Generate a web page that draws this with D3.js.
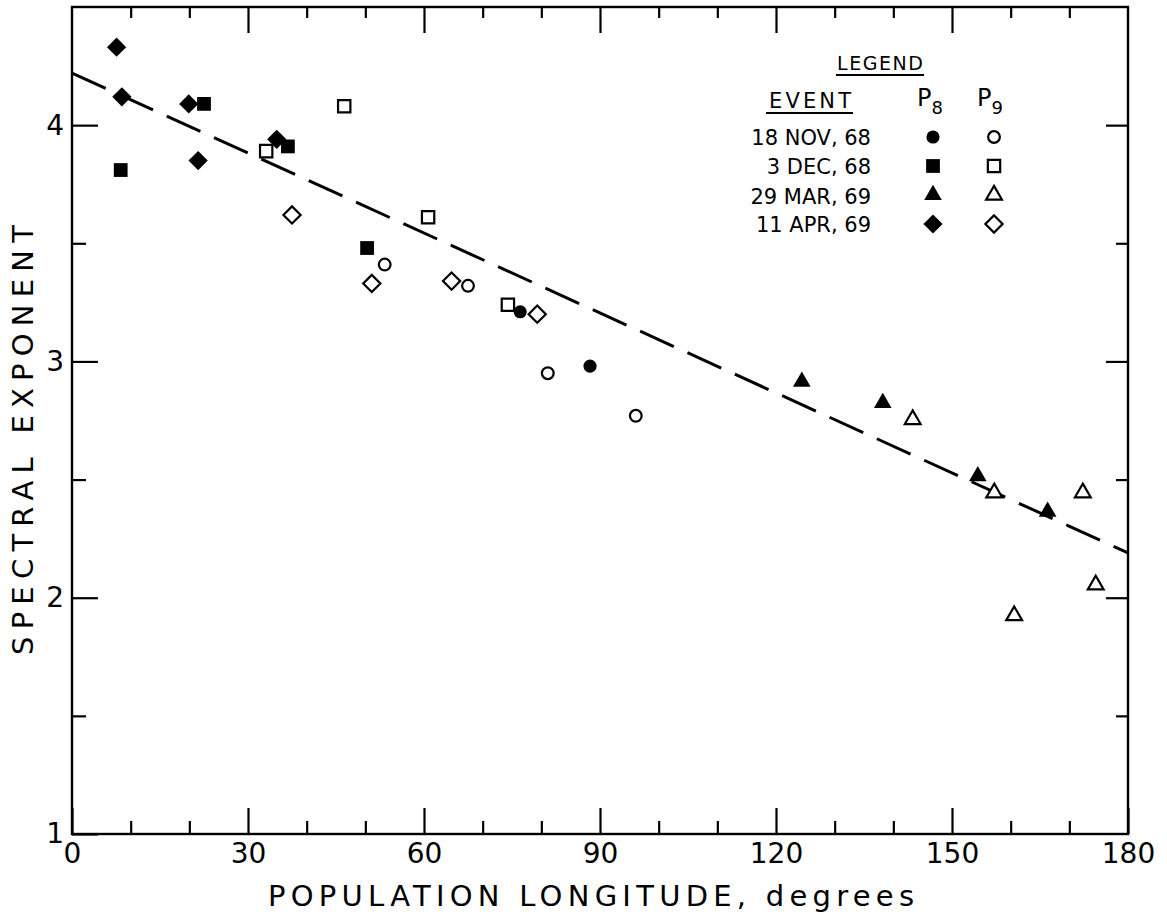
<!DOCTYPE html>
<html>
<head>
<meta charset="utf-8">
<script src="https://cdn.jsdelivr.net/npm/d3@7"></script>
<style>
  body { margin: 0; background: #fff; }
  text { font-family: "DejaVu Sans", sans-serif; fill: #000; }
</style>
</head>
<body>
<script>
// spectral exponent vs population longitude, 4 events, P8 (filled) and P9 (open)
var events = ["18 NOV, 68", "3 DEC, 68", "29 MAR, 69", "11 APR, 69"];
var shapes = ["circle", "square", "triangle", "diamond"];

// [longitude, exponent]
var nov68P8 = [[76.4, 3.21], [88.3, 2.98]];
var nov68P9 = [[53.3, 3.41], [67.5, 3.32], [81.1, 2.95], [96.1, 2.77]];
var dec68P8 = [[8.3, 3.81], [22.5, 4.09], [36.8, 3.91], [50.3, 3.48]];
var dec68P9 = [[33.1, 3.89], [60.7, 3.61], [46.4, 4.08], [74.3, 3.24]];
var mar69P8 = [[124.4, 2.91], [138.2, 2.82], [154.4, 2.51], [166.3, 2.36]];
var mar69P9 = [[143.3, 2.75], [157.2, 2.44], [160.6, 1.92], [172.3, 2.44], [174.5, 2.05]];
var apr69P8 = [[7.6, 4.33], [8.5, 4.12], [19.9, 4.09], [21.5, 3.85], [34.9, 3.94]];
var apr69P9 = [[37.5, 3.62], [51.1, 3.33], [64.7, 3.34], [79.3, 3.20]];

var fitLine = [[0, 4.22], [180, 2.19]];

var xMajor = [0, 30, 60, 90, 120, 150, 180];
var xMinor = [10, 20, 40, 50, 70, 80, 100, 110, 130, 140, 160, 170];
var yMajor = [1, 2, 3, 4];
var yMinor = [1.5, 2.5, 3.5];

var margin = {top: 7, right: 39, bottom: 84, left: 72};
var width = 1167 - margin.left - margin.right,
    height = 918 - margin.top - margin.bottom;

var svg = d3.select("body").append("svg")
    .attr("width", 1167)
    .attr("height", 918);

var g = svg.append("g")
    .attr("transform", "translate(" + margin.left + "," + margin.top + ")");

var x = d3.scaleLinear().domain([0, 180]).range([0, width]);
var y = d3.scaleLinear().domain([1, 4.5]).range([height, 0]);

// ticks all point inward
function addAxis(axisFn, scale, vals, size, transform, labels) {
  var ax = g.append("g")
      .attr("transform", transform)
      .call(axisFn(scale).tickValues(vals).tickSize(size).tickSizeOuter(0)
            .tickFormat(labels ? d3.format("d") : ""));
  ax.select(".domain").remove();
  ax.selectAll("line").attr("stroke", "#000").attr("stroke-width", 2.2);
  ax.selectAll("text").style("font-size", "28px").attr("fill", "#000");
  return ax;
}

var bx = addAxis(d3.axisBottom, x, xMajor, -26, "translate(0," + height + ")", true);
bx.selectAll("text").attr("y", 9).attr("dy", "0.71em");
addAxis(d3.axisBottom, x, xMinor, -13, "translate(0," + height + ")", false);
addAxis(d3.axisTop, x, xMajor.slice(1, -1), -26, "translate(0,0)", false);
addAxis(d3.axisTop, x, xMinor, -11, "translate(0,0)", false);

var ly = addAxis(d3.axisLeft, y, yMajor, -26, "translate(0,0)", true);
ly.selectAll("text").attr("x", -8);
addAxis(d3.axisLeft, y, yMinor, -14, "translate(0,0)", false);
addAxis(d3.axisRight, y, yMajor.slice(1), -22, "translate(" + width + ",0)", false);
addAxis(d3.axisRight, y, yMinor, -12, "translate(" + width + ",0)", false);

// frame
g.append("rect")
    .attr("width", width)
    .attr("height", height)
    .attr("fill", "none")
    .attr("stroke", "#000")
    .attr("stroke-width", 2.4);

// dashed fit line
g.append("path")
    .datum(fitLine)
    .attr("d", d3.line().x(function(d) { return x(d[0]); }).y(function(d) { return y(d[1]); }))
    .attr("fill", "none")
    .attr("stroke", "#000")
    .attr("stroke-width", 3)
    .attr("stroke-dasharray", "37,15");

var symbolType = {
  circle: d3.symbolCircle,
  square: d3.symbolSquare,
  triangle: d3.symbolTriangle,
  diamond: d3.symbolSquare
};
var symbolSize = {circle: 135, square: 190, triangle: 135, diamond: 185};

function markerPath(shape, filled) {
  var s = symbolSize[shape] * (filled ? 1 : 0.8);
  return d3.symbol().type(symbolType[shape]).size(s)();
}

function markerTransform(shape, px, py) {
  var t = "translate(" + px + "," + py + ")";
  if (shape == "diamond") t += " rotate(45)";
  if (shape == "triangle") t += " translate(0,-1)";
  return t;
}

function drawPoints(data, shape, filled) {
  g.selectAll(null)
      .data(data)
      .enter()
      .append("path")
      .attr("d", markerPath(shape, filled))
      .attr("transform", function(d) { return markerTransform(shape, x(d[0]), y(d[1])); })
      .attr("fill", filled ? "#000" : "#fff")
      .attr("stroke", "#000")
      .attr("stroke-width", filled ? 0 : 2.2);
}

var series = [
  [nov68P8, nov68P9], [dec68P8, dec68P9], [mar69P8, mar69P9], [apr69P8, apr69P9]
];
series.forEach(function(s, i) {
  drawPoints(s[1], shapes[i], false);
  drawPoints(s[0], shapes[i], true);
});

// legend
var lg = svg.append("g");
lg.append("text").attr("x", 880).attr("y", 70).attr("text-anchor", "middle")
    .style("font-size", "19px").attr("textLength", 86)
    .text("LEGEND");
lg.append("line").attr("x1", 836).attr("x2", 924).attr("y1", 75).attr("y2", 75)
    .attr("stroke", "#000").attr("stroke-width", 2);
lg.append("text").attr("x", 810).attr("y", 108).attr("text-anchor", "middle")
    .style("font-size", "21px").attr("textLength", 82)
    .text("EVENT");
lg.append("line").attr("x1", 766).attr("x2", 853).attr("y1", 113).attr("y2", 113)
    .attr("stroke", "#000").attr("stroke-width", 2);
["8", "9"].forEach(function(sub, j) {
  var t = lg.append("text").attr("x", 917 + j * 60).attr("y", 106).style("font-size", "24px");
  t.append("tspan").text("P");
  t.append("tspan").attr("dy", 8).style("font-size", "18px").text(sub);
});

var rowY = [137, 166, 196, 224];
events.forEach(function(ev, i) {
  lg.append("text")
      .attr("x", 871)
      .attr("y", rowY[i])
      .attr("dy", "0.36em")
      .attr("text-anchor", "end")
      .style("font-size", "21px")
      .text(ev);
  lg.append("path")
      .attr("d", markerPath(shapes[i], true))
      .attr("transform", markerTransform(shapes[i], 933, rowY[i]))
      .attr("fill", "#000");
  lg.append("path")
      .attr("d", markerPath(shapes[i], false))
      .attr("transform", markerTransform(shapes[i], 994, rowY[i]))
      .attr("fill", "#fff")
      .attr("stroke", "#000")
      .attr("stroke-width", 2.2);
});

// axis titles
svg.append("text")
    .attr("x", 268)
    .attr("y", 906)
    .style("font-size", "29px")
    .attr("textLength", 646)
    .attr("lengthAdjust", "spacing")
    .text("POPULATION LONGITUDE, degrees");

svg.append("text")
    .attr("transform", "translate(33,655) rotate(-90)")
    .style("font-size", "29px")
    .attr("textLength", 430)
    .attr("lengthAdjust", "spacing")
    .text("SPECTRAL EXPONENT");
</script>
</body>
</html>
